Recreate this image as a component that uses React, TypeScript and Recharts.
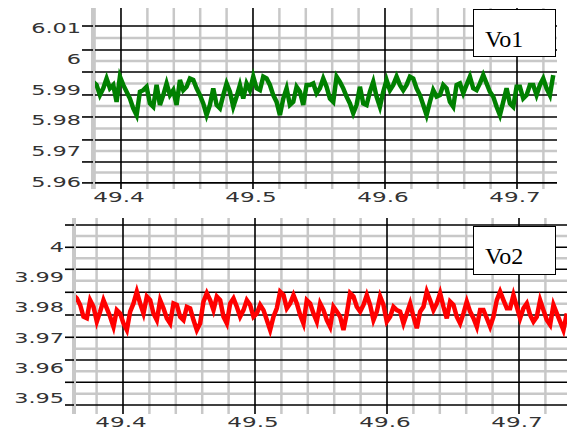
import React from 'react';
import { LineChart, Line, XAxis, YAxis, CartesianGrid, Legend } from 'recharts';

// scope samples, evenly spaced in time
const sampleStep = 0.002525;
const vo1Start = 49.379;
const vo2Start = 49.3625;

const vo1Values = [
  5.9925, 5.9915, 5.9882, 5.9904, 5.9936, 5.9904, 5.9915, 5.986, 5.9942, 5.9915,
  5.9893, 5.9871, 5.9839, 5.9817, 5.9893, 5.9898, 5.9909, 5.9855, 5.9844, 5.9915,
  5.985, 5.9882, 5.992, 5.9882, 5.9898, 5.985, 5.9931, 5.9898, 5.9909, 5.9936,
  5.9931, 5.9904, 5.9882, 5.9855, 5.9817, 5.985, 5.9904, 5.985, 5.9839, 5.9882,
  5.992, 5.9893, 5.9844, 5.9877, 5.9915, 5.9871, 5.992, 5.9898,
  5.9942, 5.9904, 5.9898, 5.9942, 5.9936, 5.9915, 5.9882, 5.986, 5.9817, 5.9871,
  5.9904, 5.985, 5.986, 5.9909, 5.9893, 5.985, 5.9915, 5.9915, 5.992, 5.9888,
  5.9904, 5.9936, 5.9909, 5.9871, 5.986, 5.9942, 5.9925, 5.9904, 5.9877, 5.9855,
  5.9823, 5.985, 5.9909, 5.9855, 5.985, 5.9893, 5.9925, 5.9877, 5.9844, 5.9893,
  5.9931, 5.9898, 5.9915, 5.9942, 5.9915, 5.9898,
  5.9915, 5.9942, 5.9936, 5.9904, 5.9882, 5.985, 5.9817, 5.986, 5.9898, 5.9877,
  5.9882, 5.9915, 5.9904, 5.986, 5.9844, 5.9915, 5.992, 5.9888, 5.9915, 5.9942,
  5.9904, 5.9898, 5.992, 5.9947, 5.992, 5.9893, 5.9877, 5.9844, 5.9817, 5.986,
  5.9904, 5.9855, 5.9844, 5.9909, 5.9909, 5.9871, 5.9882, 5.9915, 5.9915, 5.9882,
  5.9915, 5.9936, 5.9904, 5.9882, 5.9947,
];

const vo2Values = [
  3.9841, 3.983, 3.9808, 3.9769, 3.9764, 3.9824, 3.9802, 3.9753, 3.9786, 3.9824,
  3.9797, 3.9769, 3.9736, 3.9791, 3.978, 3.9747, 3.9725, 3.9786, 3.9813, 3.9852,
  3.9813, 3.978, 3.9836, 3.9824, 3.978, 3.9758, 3.9824, 3.9797, 3.9764, 3.9747,
  3.9813, 3.9808, 3.9769, 3.9758, 3.9802, 3.9797, 3.9758, 3.9725, 3.9747, 3.9819,
  3.9847, 3.9824, 3.9791, 3.9836, 3.9824, 3.9769, 3.9747, 3.9813, 3.983,
  3.9802, 3.9769, 3.9791, 3.9824, 3.9808, 3.9769, 3.978, 3.9808, 3.9791, 3.9758,
  3.9725, 3.9769, 3.9797, 3.9852, 3.9841, 3.9797, 3.9813, 3.9841, 3.9813, 3.9775,
  3.9747, 3.9824, 3.9813, 3.978, 3.9753, 3.9813, 3.9791, 3.9758, 3.9736, 3.9802,
  3.9786, 3.9769, 3.9725, 3.978, 3.9847, 3.9836, 3.9802, 3.9786, 3.9808, 3.9841,
  3.9808, 3.9758, 3.9786, 3.9836, 3.9808, 3.9753, 3.9769, 3.9802, 3.9791,
  3.9786, 3.9747, 3.978, 3.9813, 3.9769, 3.9731, 3.9786, 3.9802, 3.9852, 3.9824,
  3.9791, 3.9813, 3.9847, 3.9802, 3.9764, 3.9819, 3.9808, 3.9769, 3.9747, 3.978,
  3.9819, 3.9786, 3.9764, 3.9736, 3.9791, 3.9791, 3.9764, 3.9736, 3.9769, 3.9824,
  3.9852, 3.9824, 3.9797, 3.9797, 3.9841, 3.9802, 3.9764, 3.9797, 3.9813, 3.9775,
  3.9753, 3.9769, 3.9824, 3.9791, 3.9758, 3.9742, 3.9808, 3.978, 3.9753, 3.9725,
  3.978,
];

// time axis
const timeTicks = [49.4, 49.5, 49.6, 49.7];
const timeMinor = [
  49.38, 49.42, 49.44, 49.46, 49.48, 49.52, 49.54, 49.56, 49.58,
  49.62, 49.64, 49.66, 49.68, 49.72,
];

// Vo1 panel
const vo1Ticks = [6.01, 6, 5.99, 5.98, 5.97, 5.96];
const vo1Domain = [5.9577, 6.0165];
const vo1TimeDomain = [49.3788, 49.7303];
const vo1GridMajor = [6.01065, 6.00286, 5.99571, 5.98825, 5.9811, 5.97364, 5.96649, 5.95968];
const vo1GridMinor = [6.00675, 5.99929, 5.99198, 5.98468, 5.97737, 5.97007, 5.96308];

// Vo2 panel
const vo2Ticks = [4, 3.99, 3.98, 3.97, 3.96, 3.95];
const vo2Domain = [3.9447, 4.0096];
const vo2TimeDomain = [49.36288, 49.73636];
const vo2GridMajor = [4.00728, 3.9999, 3.99262, 3.985, 3.97748, 3.9701, 3.96258, 3.9552, 3.94768];
const vo2GridMinor = [4.00364, 3.99626, 3.98881, 3.98123, 3.97377, 3.96632, 3.95887, 3.95142];

const toRows = (start: number, values: number[]) =>
  values.map((v, i) => ({ t: +(start + i * sampleStep).toFixed(5), v }));

const labelFont = '"DejaVu Sans", Verdana, sans-serif';

const YTick = ({ x, y, payload }: any) => (
  <g transform={`translate(${x},${y})`}>
    <text transform="scale(1.6,1)" textAnchor="end" dy="0.36em" fill="#333" fontSize={14} fontFamily={labelFont}>
      {payload.value}
    </text>
  </g>
);

const XTick = ({ x, y, payload }: any) => (
  <g transform={`translate(${x - 2},${y + 8})`}>
    <text transform="scale(1.65,1)" textAnchor="middle" dy="0.36em" fill="#333" fontSize={14} fontFamily={labelFont}>
      {payload.value}
    </text>
  </g>
);

const NoLabel = () => <g />;

const NameBox = ({ payload, height }: any) => (
  <div
    style={{
      width: 83,
      height,
      boxSizing: 'border-box',
      border: '1.5px solid #000',
      background: '#fff',
      fontFamily: '"Liberation Serif", "Times New Roman", serif',
      fontSize: 24,
      lineHeight: '24px',
      paddingTop: 17,
      paddingLeft: 11,
      color: '#000',
    }}
  >
    {payload && payload[0] ? payload[0].value : ''}
  </div>
);

type PanelProps = {
  name: string;
  color: string;
  rows: { t: number; v: number }[];
  yDomain: number[];
  tDomain: number[];
  yTicks: number[];
  gridMajor: number[];
  gridMinor: number[];
  margin: { top: number; right: number; bottom: number; left: number };
  labelWidth: number;
  tickLen: number;
  xHeight: number;
  boxTop: number;
  boxHeight: number;
};

const ScopePanel = (p: PanelProps) => (
  <LineChart width={567} height={215} data={p.rows} margin={p.margin}>
    <CartesianGrid
      horizontalValues={p.gridMinor}
      verticalValues={timeMinor}
      stroke="#c8c8c8"
      strokeWidth={2.5}
    />
    <CartesianGrid
      horizontalValues={p.gridMajor}
      verticalValues={timeTicks}
      stroke="#000"
      strokeWidth={1.6}
    />
    <XAxis
      dataKey="t"
      type="number"
      domain={p.tDomain}
      allowDataOverflow
      ticks={timeTicks}
      interval={0}
      height={p.xHeight}
      axisLine={false}
      tickLine={false}
      tickSize={0}
      tickMargin={0}
      tick={<XTick />}
    />
    {/* inner axis: grid lines run out as ticks, grey frame on the left */}
    <YAxis
      type="number"
      domain={p.yDomain}
      allowDataOverflow
      ticks={p.gridMajor}
      interval={0}
      width={p.tickLen}
      tickSize={p.tickLen}
      tick={<NoLabel />}
      tickLine={{ stroke: '#000', strokeWidth: 1.6 }}
      axisLine={{ stroke: '#c8c8c8', strokeWidth: 4 }}
    />
    <YAxis
      yAxisId="label"
      type="number"
      domain={p.yDomain}
      allowDataOverflow
      ticks={p.yTicks}
      interval={0}
      width={p.labelWidth}
      axisLine={false}
      tickLine={false}
      tickSize={0}
      tickMargin={1}
      tick={<YTick />}
    />
    <Legend
      layout="vertical"
      align="center"
      verticalAlign="middle"
      wrapperStyle={{ left: 473, top: p.boxTop, width: 83 }}
      content={(props: any) => <NameBox payload={props.payload} height={p.boxHeight} />}
    />
    <Line
      name={p.name}
      dataKey="v"
      type="linear"
      stroke={p.color}
      strokeWidth={4.5}
      dot={false}
      isAnimationActive={false}
    />
  </LineChart>
);

export default function App() {
  return (
    <div style={{ position: 'absolute', left: 0, top: 0, width: 567, height: 430, background: '#fff' }}>
      <ScopePanel
        name="Vo1"
        color="#008000"
        rows={toRows(vo1Start, vo1Values)}
        yDomain={vo1Domain}
        tDomain={vo1TimeDomain}
        yTicks={vo1Ticks}
        gridMajor={vo1GridMajor}
        gridMinor={vo1GridMinor}
        margin={{ top: 8, right: 10, bottom: 0, left: 0 }}
        labelWidth={82}
        tickLen={11}
        xHeight={26}
        boxTop={9}
        boxHeight={48}
      />
      <ScopePanel
        name="Vo2"
        color="#ff0000"
        rows={toRows(vo2Start, vo2Values)}
        yDomain={vo2Domain}
        tDomain={vo2TimeDomain}
        yTicks={vo2Ticks}
        gridMajor={vo2GridMajor}
        gridMinor={vo2GridMinor}
        margin={{ top: 3, right: 0, bottom: 0, left: 0 }}
        labelWidth={65}
        tickLen={9}
        xHeight={16}
        boxTop={11}
        boxHeight={49}
      />
    </div>
  );
}
